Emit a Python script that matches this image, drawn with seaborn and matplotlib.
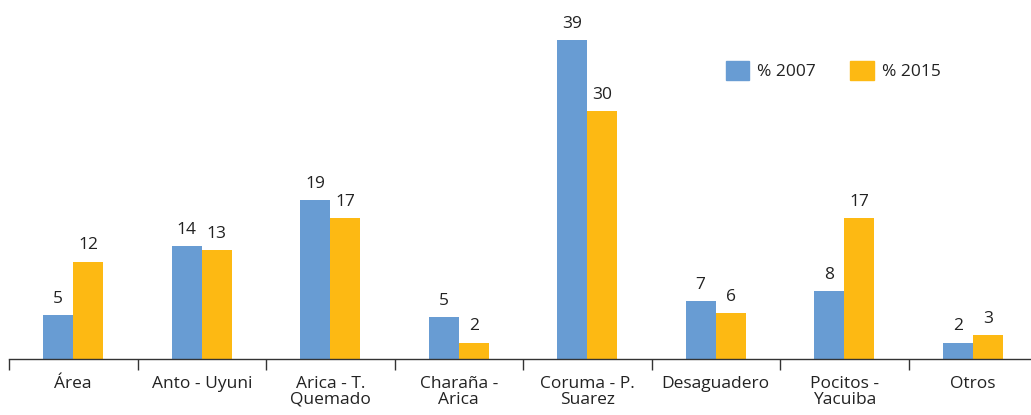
import pandas as pd
import numpy as np
from matplotlib import pyplot as plt
from matplotlib.patches import Patch
import seaborn as sns

categories = ['Área', 'Anto - Uyuni', 'Arica - T.\nQuemado', 'Charaña -\nArica',
              'Coruma - P.\nSuarez', 'Desaguadero', 'Pocitos -\nYacuiba', 'Otros']
pct_2007 = [5.4, 13.8, 19.4, 5.1, 39.0, 7.1, 8.3, 2.0]
pct_2015 = [11.9, 13.3, 17.2, 2.0, 30.3, 5.6, 17.2, 2.9]
series = ['% 2007', '% 2015']

df = pd.DataFrame({'cat': categories * 2,
                   'serie': [series[0]] * 8 + [series[1]] * 8,
                   'valor': pct_2007 + pct_2015})

sns.set_style("white")
plt.rcParams['font.family'] = ['Open Sans', 'DejaVu Sans']

fig = plt.figure(figsize=(10.31, 4.15), dpi=100)
# axes run past the right edge like the source image (cropped)
ax = fig.add_axes([9 / 1031, 56 / 415, 1028 / 1031, 359 / 415])

sns.barplot(data=df, x='cat', y='valor', hue='serie', order=categories,
            palette=['#689CD3', '#FDB913'], width=0.47, saturation=1,
            linewidth=0, ax=ax, legend=False)

for c in ax.containers:
    ax.bar_label(c, fmt='%.0f', padding=6, fontsize=12.5, color='#222222')

ax.set_xlim(-0.5, 7.5)
ax.set_ylim(0, 43.9)
ax.set_xlabel('')
ax.set_ylabel('')
ax.set_yticks([])
ax.set_xticks(np.arange(-0.5, 8, 1), minor=True)
ax.set_xticks(np.arange(len(categories)), labels=categories, linespacing=1.0)
ax.tick_params(axis='x', which='minor', bottom=True, length=8, width=1,
               color='#333333', direction='out')
ax.tick_params(axis='x', which='major', bottom=False, length=0, pad=12,
               labelsize=12.5, labelcolor='#222222')
for s in ['top', 'right', 'left']:
    ax.spines[s].set_visible(False)
ax.spines['bottom'].set_color('#333333')
ax.spines['bottom'].set_linewidth(1)

handles = [Patch(color='#689CD3'), Patch(color='#FDB913')]
fig.legend(handles, series, loc='upper left', bbox_to_anchor=(710 / 1031, 1 - 45 / 415),
           ncol=2, frameon=False, fontsize=12.5, handlelength=1.35, handleheight=1.35,
           columnspacing=2.0, handletextpad=0.45, labelcolor='#222222')

plt.savefig('out.png', dpi=100)
